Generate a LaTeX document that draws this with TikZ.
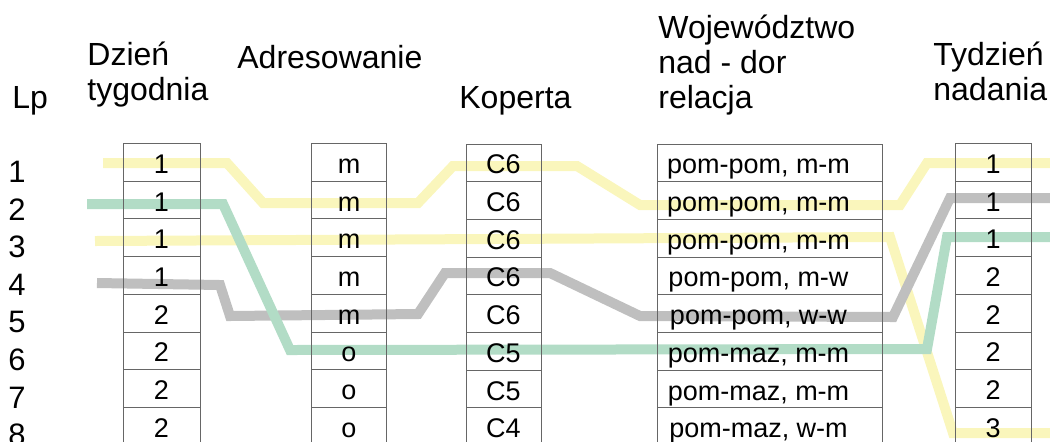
\documentclass[tikz,border=0pt]{standalone}
\usepackage{fontspec}
\setmainfont{Liberation Sans}
\definecolor{bandyellow}{HTML}{FAF6BC}
\definecolor{bandgreen}{HTML}{B2DCC6}
\definecolor{bandgray}{HTML}{BFBFBF}
\tikzset{cell/.style={draw=black!60, line width=0.5pt, inner sep=0pt,
           minimum height=18.85pt, text height=1.1em, text depth=0pt,
           font=\fontsize{13.5}{15}\selectfont},
         head/.style={anchor=base west, inner sep=0pt, align=left,
           font=\fontsize{16}{17.5}\selectfont},
         lpnum/.style={inner sep=0pt, font=\fontsize{15.5}{16}\selectfont},
         band/.style={line width=5pt, line join=miter}}
\begin{document}
\begin{tikzpicture}[x=0.5pt,y=-0.5pt]
\useasboundingbox (0,0) rectangle (1050,441);
\clip (0,0) rectangle (1050,441);
% naglowki (base = ostatnia linia)
\node[head] (lp) at (12,108) {Lp};
\node[head] (dzien) at (87,100) {Dzień\\tygodnia};
\node[head] (adres) at (237,68) {Adresowanie};
\node[head] (koperta) at (459,108) {Koperta};
\node[head] (wojew) at (658,108) {Województwo\\nad - dor\\relacja};
\node[head] (tydzien) at (933,100) {Tydzień\\ nadania};
% pasy
\draw[band,bandyellow] (103,163)--(227,163)--(263,203)--(418,203)--(453,166)--(577,166)
  --(640,205)--(900,205)--(927,163)--(1050,163);
\draw[band,bandyellow] (95,241)--(890,237)--(953,433)--(1050,433);
\draw[band,bandgray] (97,283)--(220,285)--(230,316)--(418,314)--(445,273)--(550,273)
  --(640,316)--(893,317)--(950,198)--(1050,198);
\draw[band,bandgreen] (87,204)--(223,204)--(290,350)--(927,349)--(947,237)--(1050,237);
% numery
\foreach \i in {1,...,8}
  \node[lpnum] (n\i) at (17,{172+(\i-1)*37.6}) {\i};
% kolumny
\foreach \t [count=\i] in {1,1,1,1,2,2,2,2}
  \node[cell, minimum width=38.5pt] (d\i) at (161.5,{143.5+(\i-0.5)*37.7}) {\t};
\foreach \t [count=\i] in {m,m,m,m,m,o,o,o}
  \node[cell, minimum width=37.5pt] (a\i) at (349,{143.5+(\i-0.5)*37.7}) {\t};
\foreach \t [count=\i] in {C6,C6,C6,C6,C6,C5,C5,C4}
  \node[cell, minimum width=37.5pt] (k\i) at (503.5,{144+(\i-0.5)*37.7}) {\t};
\foreach \t [count=\i] in {{pom-pom, m-m},{pom-pom, m-m},{pom-pom, m-m},{pom-pom, m-w},
    {pom-pom, w-w},{pom-maz, m-m},{pom-maz, m-m},{pom-maz, w-m}}
  \node[cell, minimum width=112.5pt] (w\i) at (769.5,{144+(\i-0.5)*37.7}) {\t\rule{11pt}{0pt}};
\foreach \t [count=\i] in {1,1,1,2,2,2,2,3}
  \node[cell, minimum width=38pt] (t\i) at (993,{143.5+(\i-0.5)*37.7}) {\t};
\end{tikzpicture}
\end{document}
